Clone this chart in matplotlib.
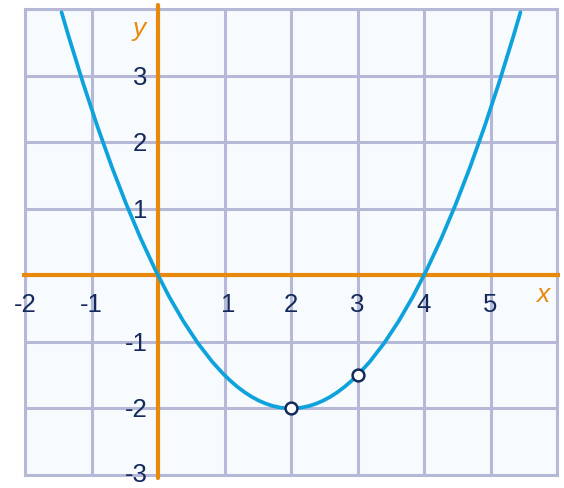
import matplotlib
matplotlib.use("Agg")
import matplotlib.pyplot as plt
from matplotlib.path import Path
from matplotlib.patches import PathPatch

# curve: left end, lowest point, right end
curve_x = [-1.45, 2.0, 5.45]
curve_y = [3.95, -2.0, 3.95]

# marked points
pts_x = [2, 3]
pts_y = [-2, -1.5]

x_ticks = [-2, -1, 1, 2, 3, 4, 5]
y_ticks = [3, 2, 1, -1, -2, -3]

grid_col = '#b5b8d6'
orange = '#e8890c'
blue = '#0ea2dc'
navy = '#142a5c'

plt.rcParams['font.family'] = ['Liberation Sans', 'DejaVu Sans']

fig = plt.figure(figsize=(5.64, 4.88), dpi=100)
ax = fig.add_axes([25/564, 13/488, 532/564, 466/488])
ax.set_xlim(-2, 6)
ax.set_ylim(-3, 4)
ax.set_facecolor('#f8fbfd')

ax.set_xticks(range(-2, 7))
ax.set_yticks(range(-3, 5))
ax.tick_params(length=0, labelbottom=False, labelleft=False)
ax.grid(True, color=grid_col, lw=2.2)
for s in ax.spines.values():
    s.set_color(grid_col)
    s.set_linewidth(2.2)

# orange axes, a bit longer than the grid
ax.plot([-2.045, 6.045], [0, 0], color=orange, lw=3, clip_on=False, zorder=3,
        solid_capstyle='butt')
ax.plot([0, 0], [-3.05, 4.06], color=orange, lw=3, clip_on=False, zorder=3,
        solid_capstyle='round')

# parabola as a quadratic bezier through the three read points
p0 = (curve_x[0], curve_y[0])
p2 = (curve_x[2], curve_y[2])
ctrl = (2 * curve_x[1] - (p0[0] + p2[0]) / 2, 2 * curve_y[1] - (p0[1] + p2[1]) / 2)
path = Path([p0, ctrl, p2], [Path.MOVETO, Path.CURVE3, Path.CURVE3])
ax.add_patch(PathPatch(path, fill=False, edgecolor=blue, lw=2.7, clip_on=False,
                       zorder=4, capstyle='round'))

ax.plot(pts_x, pts_y, 'o', ms=8.5, mfc='white', mec=navy, mew=1.8, zorder=5)

for v in x_ticks:
    dx = 0.06 if v == 1 else 0
    ax.text(v + dx, -0.44, str(v), ha='center', va='center', fontsize=18.5,
            color=navy)
for v in y_ticks:
    dy = 0.0 if v == -3 else -0.03
    ax.text(-0.16, v + dy, str(v), ha='right', va='center', fontsize=18.5,
            color=navy)

ax.text(5.79, -0.3, 'x', ha='center', va='center', fontsize=19, style='italic',
        color=orange)
ax.text(-0.29, 3.7, 'y', ha='center', va='center', fontsize=19, style='italic',
        color=orange)

fig.savefig("out.png", dpi=100, facecolor='white')
